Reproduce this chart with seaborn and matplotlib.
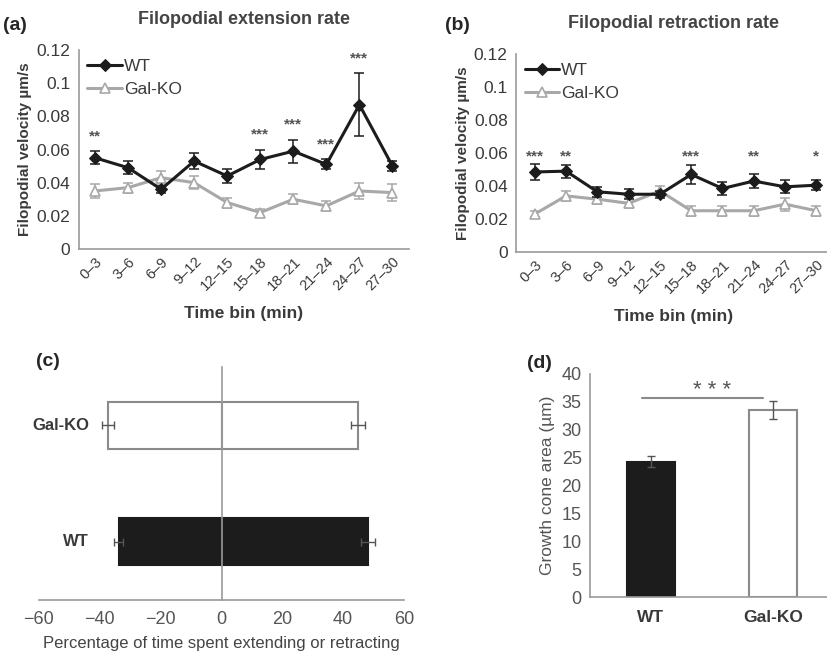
import numpy as np
import pandas as pd
import matplotlib
matplotlib.use("Agg")
import matplotlib.pyplot as plt
import seaborn as sns

sns.set_style("white")
plt.rcParams['font.family'] = ['Liberation Sans', 'DejaVu Sans']

# ---- data -----------------------------------------------------------------
time_bins = ["0\u20133", "3\u20136", "6\u20139", "9\u201312", "12\u201315",
             "15\u201318", "18\u201321", "21\u201324", "24\u201327", "27\u201330"]

ext_wt = [0.055, 0.049, 0.036, 0.053, 0.044, 0.054, 0.059, 0.051, 0.087, 0.050]
ext_wt_err = [0.004, 0.004, 0.002, 0.005, 0.004, 0.006, 0.007, 0.003, 0.019, 0.003]
ext_ko = [0.035, 0.037, 0.043, 0.040, 0.028, 0.022, 0.030, 0.026, 0.035, 0.034]
ext_ko_err = [0.004, 0.003, 0.004, 0.004, 0.003, 0.002, 0.003, 0.003, 0.005, 0.005]
ext_stars = ["**", "", "", "", "", "***", "***", "***", "***", ""]

ret_wt = [0.0485, 0.049, 0.0365, 0.035, 0.035, 0.047, 0.0385, 0.043, 0.0395, 0.0405]
ret_wt_err = [0.005, 0.004, 0.003, 0.003, 0.002, 0.006, 0.004, 0.004, 0.004, 0.003]
ret_ko = [0.023, 0.034, 0.032, 0.0295, 0.037, 0.025, 0.025, 0.025, 0.029, 0.025]
ret_ko_err = [0.002, 0.003, 0.003, 0.003, 0.003, 0.003, 0.003, 0.003, 0.004, 0.003]
ret_stars = ["***", "**", "", "", "", "***", "", "**", "", "*"]

genotypes = ["WT", "Gal-KO"]
pct_retract = [-33.8, -37.3]
pct_retract_err = [1.5, 2.0]
pct_extend = [48.2, 44.9]
pct_extend_err = [2.2, 2.3]

cone_area = [24.3, 33.5]
cone_area_err = [1.0, 1.6]

# ---- styling ---------------------------------------------------------------
WT_COL = "#1c1c1c"
KO_COL = "#a8a8a8"
AX_COL = "#9a9a9a"
TXT_COL = "#3a3a3a"

W, H = 827, 657
fig = plt.figure(figsize=(W / 100, H / 100), dpi=100)


def px_axes(left, top, right, bottom):
    return fig.add_axes([left / W, 1 - bottom / H, (right - left) / W, (bottom - top) / H])


def style_spines(ax, keep=("left", "bottom")):
    for side in ["left", "right", "top", "bottom"]:
        if side in keep:
            ax.spines[side].set_color(AX_COL)
            ax.spines[side].set_linewidth(1.2)
        else:
            ax.spines[side].set_visible(False)


def rate_panel(ax, wt, wt_err, ko, ko_err, stars, star_y, xlim, title, letter, letter_x):
    x = np.arange(len(time_bins))
    df = pd.DataFrame({
        "bin": np.concatenate([x, x]),
        "vel": wt + ko,
        "geno": ["WT"] * len(x) + ["Gal-KO"] * len(x),
    })
    sns.lineplot(data=df[df.geno == "WT"], x="bin", y="vel", ax=ax, color=WT_COL,
                 lw=2.2, marker="D", markersize=6, markeredgecolor=WT_COL,
                 label="WT", zorder=4)
    sns.lineplot(data=df[df.geno == "Gal-KO"], x="bin", y="vel", ax=ax, color=KO_COL,
                 lw=2.2, marker="^", markersize=7, markerfacecolor="white",
                 markeredgecolor=KO_COL, markeredgewidth=1.2, label="Gal-KO", zorder=3)
    ax.errorbar(x, wt, yerr=wt_err, fmt="none", ecolor=WT_COL, elinewidth=1.1,
                capsize=3.5, capthick=1.1, zorder=5)
    ax.errorbar(x, ko, yerr=ko_err, fmt="none", ecolor=KO_COL, elinewidth=1.1,
                capsize=3.5, capthick=1.1, zorder=2)
    for i, s in enumerate(stars):
        if s:
            ax.text(i, star_y[i], s, ha="center", va="center", fontsize=11,
                    fontweight="bold", color="#555555")
    ax.set_xlim(*xlim)
    ax.set_ylim(0, 0.12)
    ax.set_yticks([0, 0.02, 0.04, 0.06, 0.08, 0.1, 0.12])
    ax.set_yticklabels(["0", "0.02", "0.04", "0.06", "0.08", "0.1", "0.12"])
    ax.set_xticks(np.arange(-0.5, len(time_bins) + 0.5, 1), minor=False)
    ax.set_xticklabels([])
    ax.set_xticks(x, minor=True)
    ax.set_xticklabels(time_bins, minor=True, rotation=45, ha="right",
                       rotation_mode="anchor", fontsize=10.5, color=TXT_COL)
    ax.tick_params(axis="x", which="minor", length=0, pad=4)
    ax.tick_params(axis="x", which="major", length=4, color=AX_COL, width=1.1)
    ax.tick_params(axis="y", length=4, color=AX_COL, width=1.1, labelsize=12.5,
                   labelcolor=TXT_COL, pad=2)
    style_spines(ax)
    ax.set_xlabel("Time bin (min)", fontsize=12.5, fontweight="bold", color=TXT_COL,
                  labelpad=9)
    ax.set_ylabel("Filopodial velocity \u00b5m/s", fontsize=11, fontweight="bold",
                  color=TXT_COL, labelpad=3)
    ax.set_title(title, fontsize=13, fontweight="bold", color="#444444", pad=19)
    leg = ax.legend(loc="upper left", frameon=False, fontsize=12.5, handlelength=2.0,
                    handletextpad=0.1, borderaxespad=0.1, labelspacing=0.45)
    for t in leg.get_texts():
        t.set_color(TXT_COL)
    fig.text(letter_x / W, 1 - 25 / H, letter, fontsize=14, fontweight="bold",
             va="center", ha="left")


# ---- (a) extension ---------------------------------------------------------
ax_a = px_axes(78.5, 50, 409, 249)
ext_star_y = [m + e + 0.009 for m, e in zip(ext_wt, ext_wt_err)]
rate_panel(ax_a, ext_wt, ext_wt_err, ext_ko, ext_ko_err, ext_stars, ext_star_y,
           (-0.5, 9.5), "Filopodial extension rate", "(a)", 3)

# ---- (b) retraction --------------------------------------------------------
ax_b = px_axes(516, 54, 516 + 316, 252)
ret_star_y = [0.058] * len(time_bins)
rate_panel(ax_b, ret_wt, ret_wt_err, ret_ko, ret_ko_err, ret_stars, ret_star_y,
           (-0.6, 9.5), "Filopodial retraction rate", "(b)", 445)

# ---- (c) percentage of time ------------------------------------------------
ax_c = px_axes(39, 367, 404, 600)
pos = np.arange(len(genotypes))
fills = [WT_COL, "white"]
edges = [WT_COL, "#8a8a8a"]
for vals in (pct_retract, pct_extend):
    sns.barplot(x=vals, y=genotypes, orient="h", ax=ax_c, order=genotypes,
                hue=genotypes, palette=dict(zip(genotypes, fills)), legend=False,
                width=0.4, linewidth=1.5, edgecolor="#8a8a8a")
for p, ec in zip(ax_c.patches, edges * 2):
    p.set_edgecolor(ec)
ax_c.errorbar(pct_retract, pos, xerr=pct_retract_err, fmt="none", ecolor="#555555",
              elinewidth=1, capsize=3, capthick=1)
ax_c.errorbar(pct_extend, pos, xerr=pct_extend_err, fmt="none", ecolor="#555555",
              elinewidth=1, capsize=3, capthick=1)
ax_c.set_ylim(-0.5, 1.5)
ax_c.set_xlim(-60, 60)
ax_c.set_xticks([-60, -40, -20, 0, 20, 40, 60])
ax_c.set_xticklabels(["\u221260", "\u221240", "\u221220", "0", "20", "40", "60"])
ax_c.set_yticks([0.5, 1.5])
ax_c.set_yticklabels([])
ax_c.set_ylabel("")
ax_c.spines["left"].set_position(("data", 0))
style_spines(ax_c)
ax_c.spines["left"].set_zorder(6)
ax_c.tick_params(axis="x", direction="in", length=5, color=AX_COL, width=1.1,
                 labelsize=13, labelcolor="#555555", pad=8)
ax_c.tick_params(axis="y", direction="out", length=3, color=AX_COL, width=1)
for p, g in zip(pos, genotypes):
    ax_c.text(-43.5, p, g, ha="right", va="center", fontsize=12, fontweight="bold",
              color=TXT_COL)
ax_c.set_xlabel("Percentage of time spent extending or retracting", fontsize=12,
                color="#444444", labelpad=6)
fig.text(36 / W, 1 - 362 / H, "(c)", fontsize=14, fontweight="bold", va="center")

# ---- (d) growth cone area --------------------------------------------------
ax_d = px_axes(590, 374, 590 + 244, 597)
sns.barplot(x=genotypes, y=cone_area, ax=ax_d, hue=genotypes,
            palette=dict(zip(genotypes, fills)), legend=False, width=0.4,
            linewidth=1.5)
for p, ec in zip(ax_d.patches, edges):
    p.set_edgecolor(ec)
ax_d.errorbar(pos, cone_area, yerr=cone_area_err, fmt="none", ecolor="#555555",
              elinewidth=1, capsize=3, capthick=1)
ax_d.set_xlim(-0.5, 1.5)
ax_d.set_ylim(0, 40)
ax_d.set_yticks(range(0, 41, 5))
ax_d.set_xticks([0.5], minor=False)
ax_d.set_xticklabels([])
ax_d.set_xticks(pos, minor=True)
ax_d.set_xticklabels(genotypes, minor=True, fontsize=12.5, fontweight="bold",
                     color=TXT_COL)
ax_d.tick_params(axis="x", which="minor", length=0, pad=9)
ax_d.tick_params(axis="x", which="major", length=4, color=AX_COL, width=1)
ax_d.tick_params(axis="y", length=4, color=AX_COL, width=1.1, labelsize=13,
                 labelcolor="#555555", pad=2)
style_spines(ax_d)
ax_d.set_ylabel("Growth cone area (\u00b5m)", fontsize=12.5, color="#555555",
                labelpad=5)
top = max(a + e for a, e in zip(cone_area, cone_area_err))
ax_d.plot([-0.07, 0.92], [top + 0.6, top + 0.6], color="#8a8a8a", lw=1.5)
ax_d.text(0.5, top + 1.9, "* * *", ha="center", va="center", fontsize=16,
          color="#555555")
fig.text(527 / W, 1 - 363 / H, "(d)", fontsize=14, fontweight="bold", va="center")

fig.savefig("out.png", dpi=100)
